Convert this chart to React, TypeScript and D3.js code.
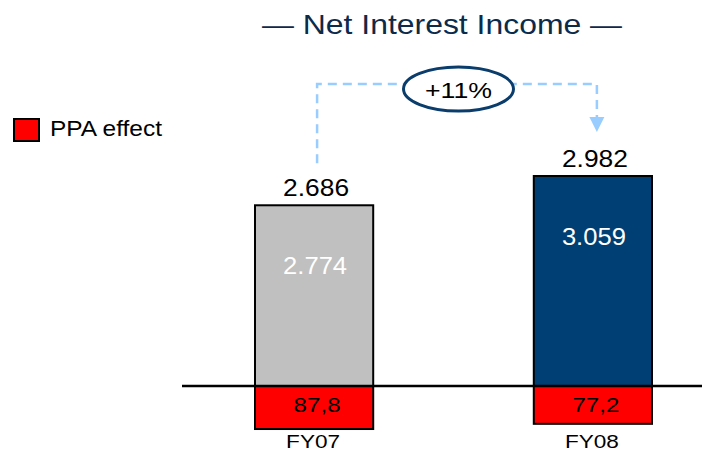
import React from 'react';
import * as d3 from 'd3';

const years = ['FY07', 'FY08'];
const grossValues = [2774, 3059];
const ppaValues = [87.8, 77.2];
const netLabels = ['2.686', '2.982'];
const grossLabels = ['2.774', '3.059'];
const ppaLabels = ['87,8', '77,2'];
const barColors = ['#c0c0c0', '#003f73'];
const growthLabel = '+11%';

const W = 702;
const H = 453;
const baseY = 386;

// the slide's text is slightly wider than Liberation Sans, so stretch it a bit
const Txt: React.FC<{ x: number; y: number; size: number; len: number; fill?: string; children: string }> = ({
  x,
  y,
  size,
  len,
  fill = '#000',
  children,
}) => (
  <text
    x={x - len / 2}
    y={y}
    fontSize={size}
    fill={fill}
    textLength={len}
    lengthAdjust="spacingAndGlyphs"
  >
    {children}
  </text>
);

const App: React.FC = () => {
  const x = d3.scaleBand().domain(years).range([255, 652]).paddingInner(0.576).paddingOuter(0);
  // truncated axis, as in the original slide
  const y = d3.scaleLinear().domain([1015, 3059]).range([baseY, 176]);
  const yPpa = d3.scaleLinear().domain([0, 100]).range([0, 49]);
  const font = 'Arial, "Liberation Sans", sans-serif';

  const cx = years.map((yr) => (x(yr) as number) + x.bandwidth() / 2);
  const bracketY = 84;
  const arrowTip = 132;
  const ellCx = 458.5;
  const lx = cx[0] + 3;
  const rx = cx[1] + 4;

  return (
    <svg width={W} height={H} style={{ position: 'absolute', left: 0, top: 0 }} fontFamily={font}>
      <Txt x={442} y={34} size={28} len={360} fill="#0c2a4a">— Net Interest Income —</Txt>

      <rect x={14} y={119} width={25} height={22} fill="#ff0000" stroke="#000" strokeWidth={2} />
      <text x={50} y={136} fontSize={22} fill="#000" textLength={112} lengthAdjust="spacingAndGlyphs">
        PPA effect
      </text>

      <path
        d={`M${lx},${y(grossValues[0]) - 42} V${bracketY} H${rx} V${arrowTip - 14}`}
        fill="none"
        stroke="#99ccff"
        strokeWidth={2.5}
        strokeDasharray="9,6"
      />
      <path d={`M${rx - 7.5},${arrowTip - 15} L${rx + 7.5},${arrowTip - 15} L${rx},${arrowTip} Z`} fill="#99ccff" />
      <ellipse cx={ellCx} cy={89} rx={55} ry={22} fill="#fff" stroke="#0a3d6b" strokeWidth={3} />
      <Txt x={ellCx} y={98} size={22} len={67}>{growthLabel}</Txt>

      {years.map((yr, i) => {
        const bx = x(yr) as number;
        const bw = x.bandwidth();
        const top = y(grossValues[i]);
        const ppaH = yPpa(ppaValues[i]);
        return (
          <g key={yr}>
            <rect x={bx} y={top} width={bw} height={baseY - top} fill={barColors[i]} stroke="#000" strokeWidth={2} />
            <rect x={bx} y={baseY} width={bw} height={ppaH} fill="#ff0000" stroke="#000" strokeWidth={2} />
            <Txt x={cx[i] + 2} y={top - 9} size={24} len={66}>{netLabels[i]}</Txt>
            <Txt x={cx[i] + 1} y={top + 69} size={24} len={64} fill="#fff">{grossLabels[i]}</Txt>
            <Txt x={cx[i] + 3} y={baseY + 26} size={21} len={47}>{ppaLabels[i]}</Txt>
            <Txt x={cx[i] - 1} y={448} size={19} len={54}>{yr}</Txt>
          </g>
        );
      })}

      <line x1={182} x2={W} y1={baseY} y2={baseY} stroke="#000" strokeWidth={2.5} />
    </svg>
  );
};

export default App;
